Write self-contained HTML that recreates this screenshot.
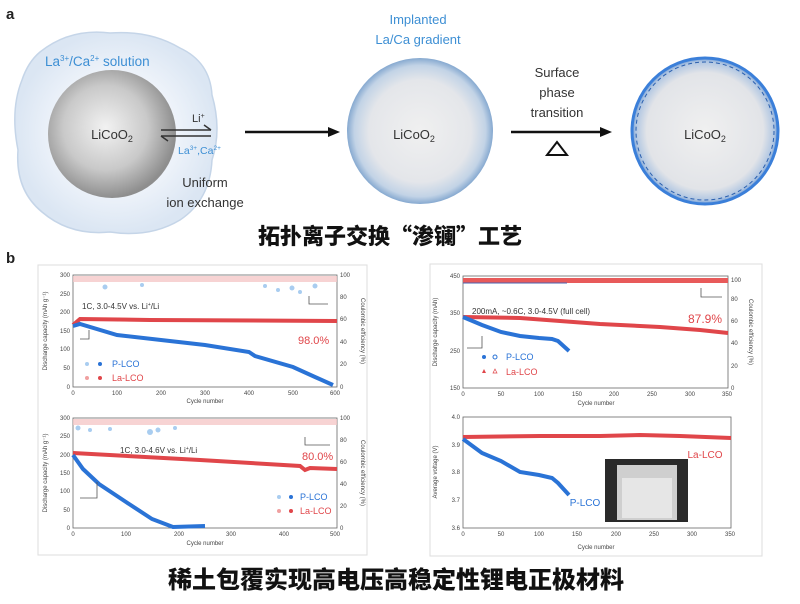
<!DOCTYPE html>
<html><head><meta charset="utf-8"><style>
html,body{margin:0;padding:0;background:#fff;}
svg{display:block;font-family:"Liberation Sans","Noto Sans CJK SC",sans-serif;}
.cn{font-family:"Noto Sans CJK SC","WenQuanYi Zen Hei",sans-serif;font-weight:900;}
.t{font-size:6px;fill:#444;}
.ax{font-size:6px;fill:#444;}
</style></head><body>
<svg width="800" height="604" viewBox="0 0 800 604">
<defs>
<radialGradient id="g1" cx="45%" cy="45%" r="55%"><stop offset="0" stop-color="#f2f2f2"/><stop offset="0.6" stop-color="#c9c9c9"/><stop offset="1" stop-color="#8e8e8e"/></radialGradient>
<radialGradient id="g2" cx="50%" cy="50%" r="50%"><stop offset="0" stop-color="#f0f0f0"/><stop offset="0.7" stop-color="#e4e6ea"/><stop offset="0.9" stop-color="#c2d3e6"/><stop offset="1" stop-color="#86a9d0"/></radialGradient>
<radialGradient id="g3" cx="50%" cy="50%" r="50%"><stop offset="0" stop-color="#f0f0f0"/><stop offset="0.8" stop-color="#e2e4e8"/><stop offset="0.95" stop-color="#b0c6e2"/><stop offset="1" stop-color="#6d9bd6"/></radialGradient>
<radialGradient id="gb" cx="50%" cy="50%" r="50%"><stop offset="0.6" stop-color="#eef3fa"/><stop offset="1" stop-color="#dbe6f3"/></radialGradient>
</defs>

<!-- panel a -->
<text x="6" y="19" font-size="15" font-weight="bold" fill="#222">a</text>
<path d="M40,52 Q70,28 110,33 Q150,30 180,48 Q210,62 212,95 Q222,130 212,160 Q210,200 180,220 Q150,238 110,232 Q70,236 42,212 Q15,190 18,150 Q10,110 22,80 Q28,62 40,52 Z" fill="url(#gb)" stroke="#c5d5e8" stroke-width="1.5"/>
<circle cx="112" cy="134" r="64" fill="url(#g1)"/>
<text x="45" y="66" font-size="13.5" fill="#3d8fd4">La<tspan font-size="8" dy="-5">3+</tspan><tspan dy="5">/Ca</tspan><tspan font-size="8" dy="-5">2+</tspan><tspan dy="5"> solution</tspan></text>
<text x="112" y="139" font-size="13" fill="#333" text-anchor="middle">LiCoO<tspan font-size="9" dy="3">2</tspan></text>
<line x1="161" y1="130" x2="211" y2="130" stroke="#333" stroke-width="1.5"/>
<line x1="161" y1="136" x2="211" y2="136" stroke="#333" stroke-width="1.5"/>
<line x1="204" y1="125" x2="211" y2="130" stroke="#333" stroke-width="1.5"/>
<line x1="161" y1="136" x2="168" y2="141" stroke="#333" stroke-width="1.5"/>
<text x="192" y="122" font-size="11" fill="#333">Li<tspan font-size="7" dy="-4">+</tspan></text>
<text x="178" y="154" font-size="10.5" fill="#3d8fd4">La<tspan font-size="6.5" dy="-4">3+</tspan><tspan dy="4">,Ca</tspan><tspan font-size="6.5" dy="-4">2+</tspan></text>
<text x="205" y="187" font-size="13" fill="#333" text-anchor="middle">Uniform</text>
<text x="205" y="207" font-size="13" fill="#333" text-anchor="middle">ion exchange</text>
<line x1="245" y1="132" x2="330" y2="132" stroke="#111" stroke-width="2.5"/>
<polygon points="340,132 328,127 328,137" fill="#111"/>

<text x="418" y="24" font-size="13" fill="#3d8fd4" text-anchor="middle">Implanted</text>
<text x="418" y="44" font-size="13" fill="#3d8fd4" text-anchor="middle">La/Ca gradient</text>
<circle cx="420" cy="131" r="73" fill="url(#g2)"/>
<text x="414" y="139" font-size="13" fill="#333" text-anchor="middle">LiCoO<tspan font-size="9" dy="3">2</tspan></text>

<text x="557" y="77" font-size="13" fill="#333" text-anchor="middle">Surface</text>
<text x="557" y="97" font-size="13" fill="#333" text-anchor="middle">phase</text>
<text x="557" y="117" font-size="13" fill="#333" text-anchor="middle">transition</text>
<line x1="511" y1="132" x2="602" y2="132" stroke="#111" stroke-width="2.5"/>
<polygon points="612,132 600,127 600,137" fill="#111"/>
<polygon points="557,142 547,155 567,155" fill="none" stroke="#111" stroke-width="2"/>

<circle cx="705" cy="131" r="73" fill="url(#g3)" stroke="#3b7fd9" stroke-width="3"/>
<circle cx="705" cy="131" r="69" fill="none" stroke="#2a5fae" stroke-width="1" stroke-dasharray="4,3"/>
<text x="705" y="139" font-size="13" fill="#333" text-anchor="middle">LiCoO<tspan font-size="9" dy="3">2</tspan></text>

<text x="390" y="244" font-size="22" class="cn" fill="#111" text-anchor="middle">拓扑离子交换“渗镧”工艺</text>
<text x="6" y="263" font-size="15" font-weight="bold" fill="#222">b</text>

<!-- panel boxes -->
<rect x="38" y="265" width="329" height="290" fill="none" stroke="#ddd" stroke-width="1"/>
<rect x="430" y="264" width="332" height="292" fill="none" stroke="#ddd" stroke-width="1"/>

<!-- chart 1 -->
<g>
<rect x="73" y="275" width="264" height="112" fill="none" stroke="#666" stroke-width="0.8"/>
<rect x="73" y="276" width="264" height="6" fill="#f5c8c8" opacity="0.8"/>
<g fill="#a9cdf0"><circle cx="105" cy="287" r="2.5"/><circle cx="142" cy="285" r="2"/><circle cx="292" cy="288" r="2.5"/><circle cx="300" cy="292" r="2"/><circle cx="315" cy="286" r="2.5"/><circle cx="278" cy="290" r="2"/><circle cx="265" cy="286" r="2"/></g>
<polyline points="73,325 80,319 150,320 337,321" fill="none" stroke="#e0464a" stroke-width="4"/>
<polyline points="73,326 80,324 117,335 161,340 205,345 249,352 255,356 293,367 315,377 333,385" fill="none" stroke="#2a73d6" stroke-width="4"/>
<text x="82" y="309" font-size="8" fill="#333">1C, 3.0-4.5V vs. Li<tspan font-size="5" dy="-3">+</tspan><tspan dy="3">/Li</tspan></text>
<text x="298" y="344" font-size="11" fill="#e0464a">98.0%</text>
<circle cx="87" cy="364" r="2" fill="#a9cdf0"/><circle cx="100" cy="364" r="2" fill="#2a73d6"/><text x="112" y="367" font-size="9" fill="#2a73d6">P-LCO</text>
<circle cx="87" cy="378" r="2" fill="#f0a0a0"/><circle cx="100" cy="378" r="2" fill="#e0464a"/><text x="112" y="381" font-size="9" fill="#e0464a">La-LCO</text>
<polyline points="89,330 89,339 80,339" fill="none" stroke="#555" stroke-width="0.8"/>
<polyline points="309,296 309,304 328,304" fill="none" stroke="#555" stroke-width="0.8"/>
<g class="ax" text-anchor="end"><text x="70" y="389">0</text><text x="70" y="370">50</text><text x="70" y="351">100</text><text x="70" y="333">150</text><text x="70" y="314">200</text><text x="70" y="296">250</text><text x="70" y="277">300</text></g>
<g class="ax"><text x="340" y="389">0</text><text x="340" y="366">20</text><text x="340" y="344">40</text><text x="340" y="321">60</text><text x="340" y="299">80</text><text x="340" y="277">100</text></g>
<g class="ax" text-anchor="middle"><text x="73" y="395">0</text><text x="117" y="395">100</text><text x="161" y="395">200</text><text x="205" y="395">300</text><text x="249" y="395">400</text><text x="293" y="395">500</text><text x="335" y="395">600</text><text x="205" y="403">Cycle number</text></g>
<text transform="translate(47,331) rotate(-90)" class="ax" text-anchor="middle">Discharge capacity (mAh g⁻¹)</text>
<text transform="translate(361,331) rotate(90)" class="ax" text-anchor="middle">Coulombic efficiency (%)</text>
</g>

<!-- chart 2 -->
<g>
<rect x="73" y="418" width="264" height="110" fill="none" stroke="#666" stroke-width="0.8"/>
<rect x="73" y="419" width="264" height="6" fill="#f5c8c8" opacity="0.8"/>
<g fill="#a9cdf0"><circle cx="78" cy="428" r="2.5"/><circle cx="90" cy="430" r="2"/><circle cx="110" cy="429" r="2"/><circle cx="150" cy="432" r="3"/><circle cx="158" cy="430" r="2.5"/><circle cx="175" cy="428" r="2"/></g>
<polyline points="73,453 200,460 300,466 305,470 310,468 337,469" fill="none" stroke="#e0464a" stroke-width="4"/>
<polyline points="73,455 83,469 99,484 126,502 152,519 173,527 205,526" fill="none" stroke="#2a73d6" stroke-width="4"/>
<text x="120" y="453" font-size="8" fill="#333">1C, 3.0-4.6V vs. Li<tspan font-size="5" dy="-3">+</tspan><tspan dy="3">/Li</tspan></text>
<text x="302" y="460" font-size="11" fill="#e0464a">80.0%</text>
<circle cx="279" cy="497" r="2" fill="#a9cdf0"/><circle cx="291" cy="497" r="2" fill="#2a73d6"/><text x="300" y="500" font-size="9" fill="#2a73d6">P-LCO</text>
<circle cx="279" cy="511" r="2" fill="#f0a0a0"/><circle cx="291" cy="511" r="2" fill="#e0464a"/><text x="300" y="514" font-size="9" fill="#e0464a">La-LCO</text>
<polyline points="97,482 97,498 80,498" fill="none" stroke="#555" stroke-width="0.8"/>
<polyline points="305,437 305,445 330,445" fill="none" stroke="#555" stroke-width="0.8"/>
<g class="ax" text-anchor="end"><text x="70" y="530">0</text><text x="70" y="512">50</text><text x="70" y="493">100</text><text x="70" y="475">150</text><text x="70" y="457">200</text><text x="70" y="438">250</text><text x="70" y="420">300</text></g>
<g class="ax"><text x="340" y="530">0</text><text x="340" y="508">20</text><text x="340" y="486">40</text><text x="340" y="464">60</text><text x="340" y="442">80</text><text x="340" y="420">100</text></g>
<g class="ax" text-anchor="middle"><text x="73" y="536">0</text><text x="126" y="536">100</text><text x="179" y="536">200</text><text x="231" y="536">300</text><text x="284" y="536">400</text><text x="335" y="536">500</text><text x="205" y="545">Cycle number</text></g>
<text transform="translate(47,473) rotate(-90)" class="ax" text-anchor="middle">Discharge capacity (mAh g⁻¹)</text>
<text transform="translate(361,473) rotate(90)" class="ax" text-anchor="middle">Coulombic efficiency (%)</text>
</g>

<!-- chart 3 -->
<g>
<rect x="463" y="276" width="265" height="112" fill="none" stroke="#666" stroke-width="0.8"/>
<rect x="463" y="278" width="265" height="5" fill="#e85a5a"/>
<line x1="463" y1="283" x2="567" y2="283" stroke="#4a63b0" stroke-width="1"/>
<polyline points="463,317 520,318 600,324 660,327 700,330 728,333" fill="none" stroke="#e0464a" stroke-width="4"/>
<polyline points="463,317 482,325 501,332 520,336 539,338 552,339 558,341 569,351" fill="none" stroke="#2a73d6" stroke-width="4"/>
<text x="472" y="314" font-size="8" fill="#333">200mA, ~0.6C, 3.0-4.5V (full cell)</text>
<text x="688" y="323" font-size="12" fill="#e0464a">87.9%</text>
<circle cx="484" cy="357" r="2" fill="#2a73d6"/><circle cx="495" cy="357" r="2" fill="none" stroke="#2a73d6"/><text x="506" y="360" font-size="9" fill="#2a73d6">P-LCO</text>
<polygon points="484,369 486,373 482,373" fill="#e0464a"/><polygon points="495,369 497,373 493,373" fill="none" stroke="#e0464a" stroke-width="0.7"/><text x="506" y="375" font-size="9" fill="#e0464a">La-LCO</text>
<polyline points="482,336 482,348 467,348" fill="none" stroke="#555" stroke-width="0.8"/>
<polyline points="701,288 701,297 722,297" fill="none" stroke="#555" stroke-width="0.8"/>
<g class="ax" text-anchor="end"><text x="460" y="390">150</text><text x="460" y="353">250</text><text x="460" y="315">350</text><text x="460" y="278">450</text></g>
<g class="ax"><text x="731" y="390">0</text><text x="731" y="368">20</text><text x="731" y="345">40</text><text x="731" y="323">60</text><text x="731" y="301">80</text><text x="731" y="282">100</text></g>
<g class="ax" text-anchor="middle"><text x="463" y="396">0</text><text x="501" y="396">50</text><text x="539" y="396">100</text><text x="577" y="396">150</text><text x="614" y="396">200</text><text x="652" y="396">250</text><text x="690" y="396">300</text><text x="727" y="396">350</text><text x="596" y="405">Cycle number</text></g>
<text transform="translate(437,332) rotate(-90)" class="ax" text-anchor="middle">Discharge capacity (mAh)</text>
<text transform="translate(749,332) rotate(90)" class="ax" text-anchor="middle">Coulombic efficiency (%)</text>
</g>

<!-- chart 4 -->
<g>
<rect x="463" y="417" width="268" height="111" fill="none" stroke="#666" stroke-width="0.8"/>
<polyline points="463,437 540,436 600,436 640,435 680,436 731,438" fill="none" stroke="#e0464a" stroke-width="4"/>
<polyline points="463,439 482,453 501,461 520,472 539,475 552,478 558,483 569,495" fill="none" stroke="#2a73d6" stroke-width="4"/>
<text x="705" y="458" font-size="10" fill="#e0464a" text-anchor="middle">La-LCO</text>
<text x="585" y="506" font-size="10" fill="#2a73d6" text-anchor="middle">P-LCO</text>
<rect x="605" y="459" width="83" height="63" fill="#2a2a2a"/>
<rect x="617" y="465" width="60" height="55" fill="#cfcfcf"/>
<rect x="622" y="478" width="50" height="40" fill="#e6e6e6"/>
<g class="ax" text-anchor="end"><text x="460" y="530">3.6</text><text x="460" y="502">3.7</text><text x="460" y="474">3.8</text><text x="460" y="447">3.9</text><text x="460" y="419">4.0</text></g>
<g class="ax" text-anchor="middle"><text x="463" y="536">0</text><text x="501" y="536">50</text><text x="539" y="536">100</text><text x="577" y="536">150</text><text x="616" y="536">200</text><text x="654" y="536">250</text><text x="692" y="536">300</text><text x="730" y="536">350</text><text x="596" y="549">Cycle number</text></g>
<text transform="translate(437,472) rotate(-90)" class="ax" text-anchor="middle">Average voltage (V)</text>
</g>

<text x="396" y="588" font-size="24" class="cn" fill="#111" text-anchor="middle">稀土包覆实现高电压高稳定性锂电正极材料</text>
</svg>
</body></html>
